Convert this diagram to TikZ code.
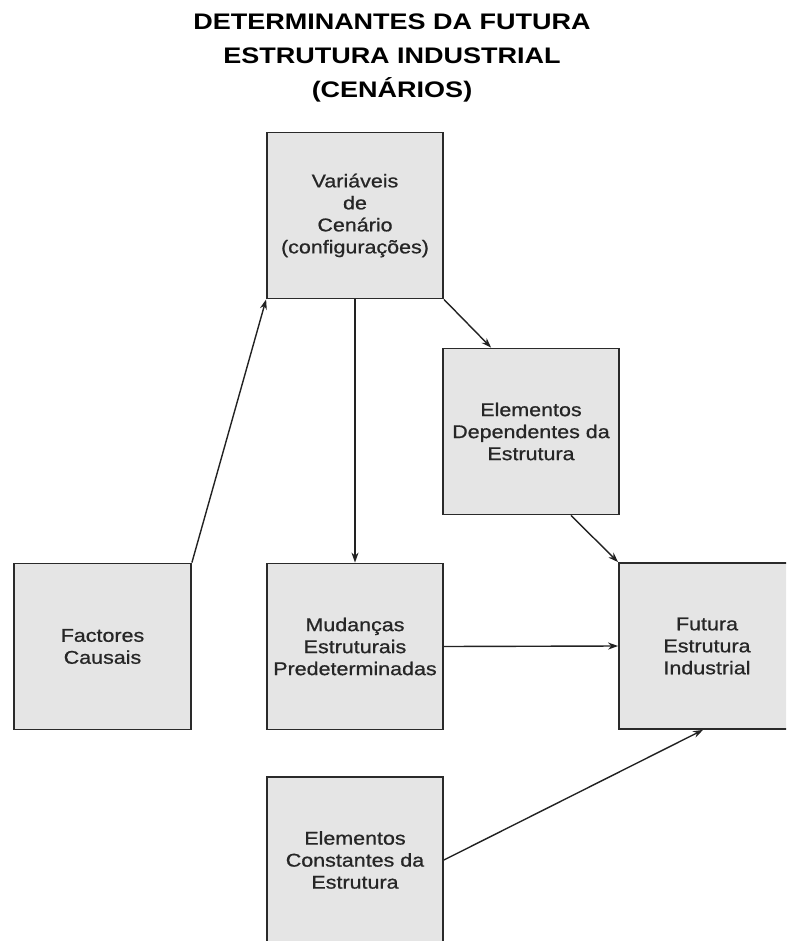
\documentclass[tikz,border=0pt]{standalone}
\usepackage{fontspec}
\usetikzlibrary{arrows.meta}
\newfontfamily\boxfont[FakeStretch=1.16,FakeBold=0.8]{Liberation Sans}
\newfontfamily\headfont[FakeStretch=1.2]{Liberation Sans}
\definecolor{boxfill}{HTML}{E5E5E5}
\definecolor{boxline}{HTML}{2A2A2A}
\definecolor{arrowline}{HTML}{222222}
\begin{document}
\begin{tikzpicture}[x=1pt,y=-1pt,
  blockbox/.style={draw=boxline, line width=1.8pt, fill=boxfill,
    minimum width=176pt, minimum height=166pt, inner sep=0pt,
    align=center, text=black!85,
    font=\boxfont\fontsize{18.5}{22}\selectfont},
  flow/.style={draw=arrowline, line width=1.4pt,
    -{Stealth[length=10pt,width=7pt]}},
  heading/.style={align=center, inner sep=0pt,
    font=\headfont\bfseries\fontsize{22.5}{34}\selectfont}]
\useasboundingbox (0,0) rectangle (786,941);
\clip (0,0) rectangle (786,941);

% title
\node[heading] (title) at (392,58) {DETERMINANTES DA FUTURA\\ESTRUTURA INDUSTRIAL\\(CENÁRIOS)};

% blocks
\node[blockbox] (var) at (355,215.5) {Variáveis\\de\\Cenário\\(configurações)};
\node[blockbox] (dep) at (531,431.5) {Elementos\\Dependentes da\\Estrutura};
\node[blockbox, minimum width=177pt] (fac) at (102.5,646.5) {Factores\\Causais};
\node[blockbox] (mud) at (355,646.5) {Mudanças\\Estruturais\\Predeterminadas};
\node[blockbox] (fut) at (707,646) {Futura\\Estrutura\\Industrial};
\node[blockbox] (con) at (355,860) {Elementos\\Constantes da\\Estrutura};

% connectors
\draw[flow] (fac.north east) -- (var.south west);
\draw[flow] (var.south) -- (mud.north);
\draw[flow] (var.south east) -- ([xshift=49pt]dep.north west);
\draw[flow] ([xshift=-49pt]dep.south east) -- (fut.north west);
\draw[flow] (mud.east) -- (fut.west);
\draw[flow] (con.east) -- ([xshift=-4pt]fut.south);
\end{tikzpicture}
\end{document}
